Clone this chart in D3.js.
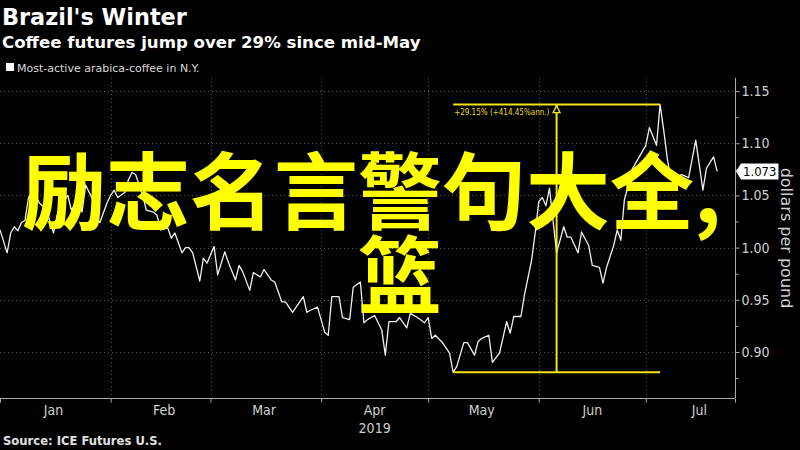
<!DOCTYPE html>
<html><head><meta charset="utf-8">
<script src="https://cdn.jsdelivr.net/npm/d3@7"></script>
<style>body{margin:0;background:#000;} svg{display:block;}</style>
</head><body><svg id="c" width="800" height="450"></svg>
<script>
// ---- data ----
const dates = [
"2019-01-01","2019-01-03","2019-01-04","2019-01-05","2019-01-06","2019-01-07","2019-01-08","2019-01-09","2019-01-10","2019-01-11",
"2019-01-12","2019-01-14","2019-01-16","2019-01-17","2019-01-18","2019-01-20","2019-01-21","2019-01-23","2019-01-24","2019-01-25",
"2019-01-27","2019-01-28","2019-01-29","2019-01-31","2019-02-01","2019-02-02","2019-02-03","2019-02-05","2019-02-06","2019-02-07",
"2019-02-08","2019-02-10","2019-02-11","2019-02-13","2019-02-14","2019-02-15","2019-02-17","2019-02-18","2019-02-19","2019-02-21",
"2019-02-22","2019-02-23","2019-02-24","2019-02-26","2019-02-27","2019-02-28","2019-03-02","2019-03-03","2019-03-05","2019-03-06",
"2019-03-08","2019-03-09","2019-03-10","2019-03-12","2019-03-13","2019-03-15","2019-03-16","2019-03-18","2019-03-19","2019-03-21",
"2019-03-22","2019-03-24","2019-03-25","2019-03-27","2019-03-28","2019-03-29","2019-03-31","2019-04-02","2019-04-03","2019-04-04",
"2019-04-06","2019-04-07","2019-04-09","2019-04-10","2019-04-12","2019-04-13","2019-04-14","2019-04-16","2019-04-18","2019-04-19",
"2019-04-20","2019-04-22","2019-04-23","2019-04-25","2019-04-26","2019-04-28","2019-04-30","2019-05-01","2019-05-02","2019-05-03",
"2019-05-05","2019-05-06","2019-05-07","2019-05-08","2019-05-09","2019-05-11","2019-05-12","2019-05-14","2019-05-15","2019-05-16",
"2019-05-18","2019-05-19","2019-05-21","2019-05-23","2019-05-24","2019-05-25","2019-05-27","2019-05-28","2019-05-30","2019-05-31",
"2019-06-01","2019-06-02","2019-06-03","2019-06-04","2019-06-06","2019-06-08","2019-06-09","2019-06-10","2019-06-12","2019-06-13",
"2019-06-15","2019-06-16","2019-06-18","2019-06-19","2019-06-20","2019-06-22","2019-06-23","2019-06-24","2019-06-25","2019-06-26",
"2019-06-27","2019-06-29","2019-07-01","2019-07-02","2019-07-04","2019-07-05","2019-07-06","2019-07-07","2019-07-08","2019-07-10",
"2019-07-11","2019-07-13","2019-07-15","2019-07-17","2019-07-18","2019-07-20","2019-07-21"];
const prices = [
1.017,0.995,1.014,1.020,1.016,1.024,1.026,1.048,1.052,1.050,
1.043,1.036,1.014,1.031,1.041,1.050,1.036,1.046,1.034,1.060,
1.046,1.028,1.024,1.043,1.050,1.055,1.048,1.053,1.065,1.072,
1.070,1.050,1.036,1.034,1.031,1.017,1.019,1.009,1.014,0.995,
1.000,1.000,0.995,0.968,0.990,0.985,1.001,0.974,0.996,0.986,
0.969,0.983,0.977,0.959,0.976,0.972,0.979,0.969,0.967,0.948,
0.948,0.938,0.943,0.953,0.938,0.940,0.943,0.919,0.916,0.953,
0.953,0.933,0.931,0.962,0.967,0.928,0.931,0.935,0.921,0.897,
0.929,0.929,0.933,0.923,0.937,0.933,0.928,0.933,0.913,0.916,
0.909,0.904,0.899,0.8805,0.886,0.909,0.909,0.897,0.910,0.913,
0.916,0.890,0.899,0.929,0.918,0.934,0.934,0.955,0.988,1.014,
1.044,1.048,1.040,1.057,0.995,1.020,1.010,1.010,0.995,1.015,
1.002,0.983,0.981,0.966,0.981,1.002,1.017,1.007,1.046,1.058,
1.074,1.086,1.098,1.115,1.098,1.137,1.113,1.086,1.065,1.068,
1.070,1.067,1.103,1.055,1.076,1.087,1.073];
const monthLabels = ["Jan","Feb","Mar","Apr","May","Jun","Jul"];
const monthStarts = ["2019-01-01","2019-02-01","2019-03-01","2019-04-01","2019-05-01","2019-06-01","2019-07-01"];
const yearLabel = "2019";
const yTicks = [0.90,0.95,1.00,1.05,1.10,1.15];
const yMinorTicks = [0.875,0.925,0.975,1.025,1.075,1.125];
const changeLabel = "+29.15% (+414.45%ann.)";
const lastLabel = "1.073";

// ---- chart ----
(function(){
const parse = d3.utcParse("%Y-%m-%d");
const data = dates.map((d,i)=>({date:parse(d), v:prices[i]}));
const svg = d3.select("#c");
svg.append("rect").attr("width",800).attr("height",450).attr("fill","#000");

const pL = 0, pR = 735, pT = 78, pB = 398;
const x = d3.scaleUtc().domain([parse("2019-01-01"), parse("2019-07-26")]).range([pL, pR]);
const y = d3.scaleLinear().domain([0.8559, 1.1625]).range([pB, pT]);

const condensed = "'Liberation Sans Narrow','DejaVu Sans Condensed','Roboto Condensed',sans-serif";

// grid
const grid = svg.append("g").attr("stroke","#5a5a5a").attr("stroke-dasharray","1,3").attr("stroke-width",1);
grid.selectAll("line.h").data(yTicks).join("line").attr("class","h")
  .attr("x1",pL).attr("x2",pR).attr("y1",d=>Math.round(y(d))+0.5).attr("y2",d=>Math.round(y(d))+0.5);
grid.selectAll("line.v").data(monthStarts.slice(1)).join("line").attr("class","v")
  .attr("x1",d=>Math.round(x(parse(d)))+0.5).attr("x2",d=>Math.round(x(parse(d)))+0.5).attr("y1",pT).attr("y2",pB);

// right axis
const yAxis = d3.axisRight(y).tickValues(yTicks).tickFormat(d3.format(".2f")).tickSize(4).tickPadding(2);
const ga = svg.append("g").attr("transform",`translate(${pR+0.5},0)`).call(yAxis);
ga.select(".domain").attr("stroke","#aaa").attr("d",`M0,${pT}V${pB}`);
ga.selectAll(".tick line").attr("stroke","#aaa");
ga.selectAll(".tick text").attr("fill","#d0d0d0").attr("font-size",14).attr("font-family",condensed);
const gm = svg.append("g").attr("transform",`translate(${pR+0.5},0)`)
  .call(d3.axisRight(y).tickValues(yMinorTicks).tickFormat("").tickSize(3));
gm.select(".domain").remove();
gm.selectAll(".tick line").attr("stroke","#aaa");

// bottom axis
const xAxis = d3.axisBottom(x).tickValues(monthStarts.map(parse).concat([x.domain()[1]])).tickFormat("").tickSize(4);
const gx = svg.append("g").attr("transform",`translate(0,${pB+0.5})`).call(xAxis);
gx.select(".domain").attr("stroke","#aaa").attr("d",`M${pL},0H${pR}`);
gx.selectAll(".tick line").attr("stroke","#aaa");
svg.append("g").selectAll("text").data(monthLabels).join("text")
  .attr("x",(d,i)=>x(d3.utcDay.offset(parse(monthStarts[i]),15)))
  .attr("y",415).attr("text-anchor","middle").attr("fill","#d0d0d0")
  .attr("font-size",14).attr("font-family",condensed).text(d=>d);
svg.append("text").attr("x",x(d3.utcDay.offset(parse(monthStarts[3]),15))).attr("y",433)
  .attr("text-anchor","middle").attr("fill","#d0d0d0").attr("font-size",14).attr("font-family",condensed).text(yearLabel);

// line
svg.append("path").datum(data).attr("fill","none").attr("stroke","#f0f0f0").attr("stroke-width",1.3)
  .attr("stroke-linejoin","round")
  .attr("d",d3.line().x(d=>x(d.date)).y(d=>y(d.v)));

// annotation (low to later high)
const lowPt = data.reduce((a,b)=> b.v<a.v?b:a);
const highPt = data.filter(d=>d.date>lowPt.date).reduce((a,b)=> b.v>a.v?b:a);
const ax1 = x(lowPt.date), ax2 = x(highPt.date), amid = (ax1+ax2)/2;
const yl = y(lowPt.v), yh = y(highPt.v);
const ann = svg.append("g").attr("stroke","#f5e61c").attr("stroke-width",2);
ann.append("line").attr("x1",ax1).attr("x2",ax2).attr("y1",yh).attr("y2",yh);
ann.append("line").attr("x1",ax1).attr("x2",ax2).attr("y1",yl).attr("y2",yl);
ann.append("line").attr("x1",amid).attr("x2",amid).attr("y1",yh).attr("y2",yl);
svg.append("path").attr("d",`M${amid},${yh+1}L${amid-3.5},${yh+8}L${amid+3.5},${yh+8}Z`)
  .attr("fill","#000").attr("stroke","#f5e61c").attr("stroke-width",1.3);
svg.append("text").attr("x",ax1+1).attr("y",yh+10).attr("fill","#e8d820")
  .attr("font-size",8).attr("font-family","'DejaVu Sans Condensed','DejaVu Sans',sans-serif").text(changeLabel);

// last value tag
const last = data[data.length-1];
const ly = y(last.v);
const tagBox = svg.append("path").attr("fill","#fff");
const tagText = svg.append("text").attr("x",pR+8).attr("y",ly+4.5).attr("fill","#000").attr("font-size",13)
  .attr("font-family",condensed).text(lastLabel);
const tw = tagText.node().getComputedTextLength();
tagBox.attr("d",`M${pR+1},${ly}L${pR+6},${ly-8}H${pR+10+tw}V${ly+8}H${pR+6}Z`);

// y axis title
svg.append("text").attr("transform","translate(781,238) rotate(90)").attr("text-anchor","middle")
  .attr("fill","#d0d0d0").attr("font-size",16).attr("font-family","'DejaVu Sans',sans-serif").text("dollars per pound");

// titles
svg.append("text").attr("x",2).attr("y",25).attr("fill","#fff").attr("font-size",22.4).attr("font-weight","bold")
  .attr("font-family","'DejaVu Sans',sans-serif").text("Brazil's Winter");
svg.append("text").attr("x",2).attr("y",48).attr("fill","#fff").attr("font-size",16.6).attr("font-weight","bold")
  .attr("font-family","'DejaVu Sans',sans-serif").text("Coffee futures jump over 29% since mid-May");
svg.append("rect").attr("x",6).attr("y",63).attr("width",8).attr("height",8).attr("fill","#fff");
svg.append("text").attr("x",17).attr("y",71.5).attr("fill","#d8d8d8").attr("font-size",11)
  .attr("font-family","'DejaVu Sans',sans-serif").text("Most-active arabica-coffee in N.Y.");
svg.append("text").attr("x",3).attr("y",445).attr("fill","#e0e0e0").attr("font-size",11.6).attr("font-weight","bold")
  .attr("font-family","'DejaVu Sans',sans-serif").text("Source: ICE Futures U.S.");

// overlay text (two lines in one text element)
const cjk = "'Noto Sans CJK SC',sans-serif";
const ov = svg.append("text").attr("fill","#ffff00").attr("font-size",84).attr("font-weight",700).attr("font-family",cjk);
ov.append("tspan").attr("x",22).attr("y",223).attr("text-anchor","start").text("励志名言警句大全,");
ov.append("tspan").attr("x",400).attr("y",307).attr("text-anchor","middle").text("篮");
})();
</script></body></html>
